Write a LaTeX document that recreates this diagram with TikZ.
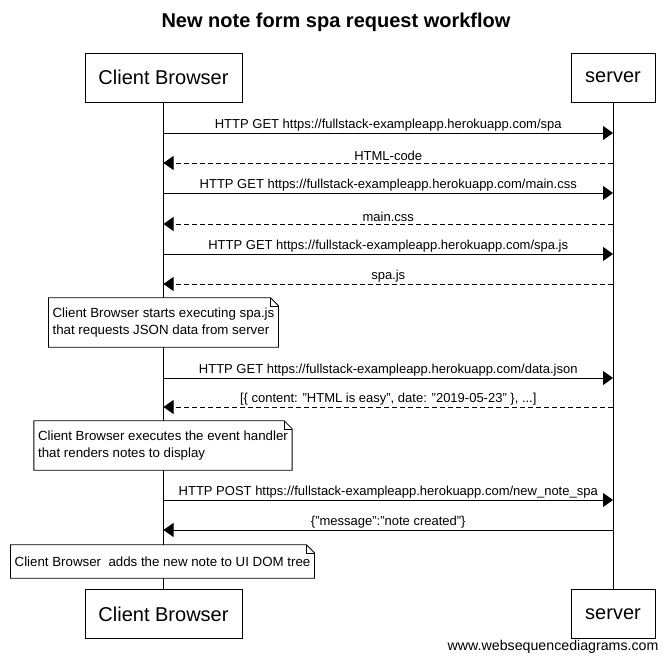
\documentclass[tikz,border=0pt]{standalone}
\usepackage{fontspec}
\setmainfont{Liberation Sans}
\usetikzlibrary{arrows.meta}

\tikzset{
  actor/.style={draw, line width=0.8pt, fill=white, minimum height=49pt, inner sep=0pt,
                font=\fontsize{20}{24}\selectfont},
  lifeline/.style={line width=0.8pt},
  msg/.style={line width=0.8pt, -{Triangle[length=10pt,width=14pt]}},
  reply/.style={msg, dash pattern=on 5pt off 3pt},
  msglabel/.style={above, inner sep=1.5pt, font=\fontsize{13}{15}\selectfont},
  notebox/.style={fill=white, align=left, inner xsep=4pt, inner ysep=0pt,
                  font=\fontsize{13.3}{17}\selectfont},
}

% note outline with folded corner
\newcommand{\foldnote}[1]{%
  \draw[line width=0.8pt] (#1.south west) -- (#1.north west) -- ([xshift=-8pt]#1.north east)
    -- ([yshift=-8pt]#1.north east) -- (#1.south east) -- cycle;
  \draw[line width=0.6pt] ([xshift=-8pt]#1.north east) -- ([xshift=-8pt,yshift=-8pt]#1.north east)
    -- ([yshift=-8pt]#1.north east);}

\begin{document}
\begin{tikzpicture}[x=1pt,y=-1pt]
\useasboundingbox[fill=white] (0,0) rectangle (672,663);

\node[font=\bfseries\fontsize{20}{24}\selectfont] (title) at (336,22) {New note form spa request workflow};

% participants
\node[actor, minimum width=157pt] (cbtop) at (163.5,77.5) {Client Browser};
\node[actor, minimum width=84pt]  (srvtop) at (613,77.5) {server};
\node[actor, minimum width=157pt] (cbbot) at (163.5,614) {Client Browser};
\node[actor, minimum width=84pt]  (srvbot) at (613,614) {server};

\draw[lifeline] (cbtop) -- (cbbot);
\draw[lifeline] (srvtop) -- (srvbot);

% message levels on both lifelines
\foreach \n/\y in {1/133,2/163,3/193,4/224,5/254,6/284,7/378,8/407,9/500,10/530}{
  \coordinate (c\n) at (cbtop.south |- 0,\y);
  \coordinate (s\n) at (srvtop.south |- 0,\y);
}

\draw[msg]   (c1) -- (s1) node[midway, msglabel] {HTTP GET https://fullstack-exampleapp.herokuapp.com/spa};
\draw[reply] (s2) -- (c2) node[midway, msglabel] {HTML-code};
\draw[msg]   (c3) -- (s3) node[midway, msglabel] {HTTP GET https://fullstack-exampleapp.herokuapp.com/main.css};
\draw[reply] (s4) -- (c4) node[midway, msglabel] {main.css};
\draw[msg]   (c5) -- (s5) node[midway, msglabel] {HTTP GET https://fullstack-exampleapp.herokuapp.com/spa.js};
\draw[reply] (s6) -- (c6) node[midway, msglabel] {spa.js};

\node[notebox, minimum height=49pt] (note1) at (163.5,322.5)
  {Client Browser starts executing spa.js\\that requests JSON data from server};
\foldnote{note1}

\draw[msg]   (c7) -- (s7) node[midway, msglabel] {HTTP GET https://fullstack-exampleapp.herokuapp.com/data.json};
\draw[reply] (s8) -- (c8) node[midway, msglabel] {[\{ content: "HTML is easy", date: "2019-05-23" \}, ...]};

\node[notebox, minimum height=49pt] (note2) at (163,445.5)
  {Client Browser executes the event handler\\that renders notes to display};
\foldnote{note2}

\draw[msg] (c9) -- (s9) node[midway, msglabel] {HTTP POST https://fullstack-exampleapp.herokuapp.com/new\_note\_spa};
\draw[msg] (s10) -- (c10) node[midway, msglabel] {\{"message":"note created"\}};

\node[notebox, minimum height=33pt] (note3) at (162.5,561.5)
  {Client Browser\ \ adds the new note to UI DOM tree};
\foldnote{note3}

\node[anchor=base east, font=\fontsize{14.2}{16}\selectfont] (wsd) at (662,650) {www.websequencediagrams.com};

\end{tikzpicture}
\end{document}
